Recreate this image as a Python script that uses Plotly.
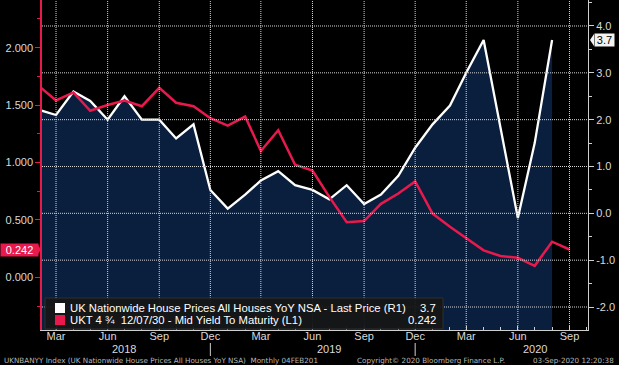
import plotly.graph_objects as go

# ---------------- data ----------------
DATES = [f"{y}-{m:02d}-01" for y, m in
         [(2018, m) for m in range(2, 13)] + [(2019, m) for m in range(1, 13)] + [(2020, m) for m in range(1, 10)]]

# UK Nationwide House Prices YoY (R1) - Feb 2018 .. Aug 2020
HOUSE_YOY = [2.2, 2.1, 2.6, 2.4, 2.0, 2.5, 2.0, 2.0, 1.6, 1.9, 0.5,
             0.1, 0.4, 0.7, 0.9, 0.6, 0.5, 0.3, 0.6, 0.2, 0.4, 0.8, 1.4,
             1.9, 2.3, 3.0, 3.7, 1.8, -0.1, 1.5, 3.7]
# UKT 4 3/4 12/07/30 mid yield (L1) - Feb 2018 .. Sep 2020
GILT_YIELD = [1.655, 1.54, 1.61, 1.45, 1.50, 1.54, 1.49, 1.65, 1.52, 1.49, 1.385,
              1.32, 1.40, 1.10, 1.28, 0.98, 0.93, 0.70, 0.48, 0.49, 0.64, 0.73, 0.835,
              0.555, 0.44, 0.34, 0.235, 0.185, 0.17, 0.10, 0.31, 0.242]

X_TICK_DATES = ["2018-03-01", "2018-06-01", "2018-09-01", "2018-12-01",
                "2019-03-01", "2019-06-01", "2019-09-01", "2019-12-01",
                "2020-03-01", "2020-06-01", "2020-09-01"]
X_TICK_LABELS = ["Mar", "Jun", "Sep", "Dec", "Mar", "Jun", "Sep", "Dec", "Mar", "Jun", "Sep"]
YEAR_LABELS = ["2018", "2019", "2020"]
YEAR_CENTERS = ["2018-07-01", "2019-07-01", "2020-07-01"]
YEAR_SEPARATORS = ["2018-12-01", "2019-12-01"]

LEFT_TICKS = [0.0, 0.5, 1.0, 1.5, 2.0]
RIGHT_TICKS = [-2.0, -1.0, 0.0, 1.0, 2.0, 3.0, 4.0]

X_RANGE = ["2018-02-04", "2020-10-04"]
LEFT_RANGE = [-0.459, 2.415]
RIGHT_RANGE = [-2.491, 4.555]

HOUSE_NAME = "UK Nationwide House Prices All Houses YoY NSA - Last Price (R1)"
GILT_NAME = "UKT 4 \u00be  12/07/30 - Mid Yield To Maturity (L1)"
FOOT_LEFT = "UKNBANYY Index (UK Nationwide House Prices All Houses YoY NSA)  Monthly 04FEB201"
FOOT_MID = "Copyright\u00a9 2020 Bloomberg Finance L.P."
FOOT_RIGHT = "03-Sep-2020 12:20:38"

# ---------------- style ----------------
W, H = 619, 365
ML, MR, MT, MB = 42, 31, 0, 35
PW, PH = W - ML - MR, H - MT - MB
RED = "#e8194c"
AXIS_GREY = "#cfcfcf"
GRID = "#d4d4d4"
TEXT = "#dadada"
FONT = "Liberation Sans"
FOOT_FONT = "DejaVu Sans"


def px(x):
    return (x - ML) / PW


def py(y):
    return (H - MB - y) / PH


fig = go.Figure()

house_dates = DATES[:len(HOUSE_YOY)]
# baseline at the bottom of the right axis so the area fills to the plot floor
fig.add_trace(go.Scatter(x=house_dates, y=[RIGHT_RANGE[0]] * len(HOUSE_YOY), mode="lines",
                         line=dict(width=0), hoverinfo="skip", yaxis="y"))
fig.add_trace(go.Scatter(x=house_dates, y=HOUSE_YOY, mode="lines", name=HOUSE_NAME,
                         line=dict(color="white", width=2.3), fill="tonexty",
                         fillcolor="#0a1f3e", yaxis="y"))
fig.add_trace(go.Scatter(x=DATES, y=GILT_YIELD, mode="lines", name=GILT_NAME,
                         line=dict(color=RED, width=2.5), yaxis="y2"))

fig.update_layout(
    width=W, height=H,
    margin=dict(l=ML, r=MR, t=MT, b=MB, pad=0),
    paper_bgcolor="black", plot_bgcolor="black",
    showlegend=False,
    font=dict(family=FONT, size=11, color=TEXT),
    xaxis=dict(type="date", range=X_RANGE, tickmode="array", tickvals=X_TICK_DATES,
               ticktext=X_TICK_LABELS, ticks="inside", ticklen=4, tickcolor=AXIS_GREY,
               showline=True, linecolor=AXIS_GREY, linewidth=1, zeroline=False,
               showgrid=False, tickfont=dict(size=11, color=TEXT), ticklabelstandoff=-4,
               minor=dict(dtick="M1", tick0="2018-01-01", ticks="inside", ticklen=3,
                          tickcolor=AXIS_GREY, showgrid=False)),
    yaxis=dict(side="right", range=RIGHT_RANGE, tickmode="array", tickvals=RIGHT_TICKS,
               ticktext=[f"{v:.1f}" for v in RIGHT_TICKS], ticks="outside", ticklen=5,
               tickcolor=AXIS_GREY, showline=True, linecolor=AXIS_GREY, linewidth=1,
               zeroline=False, showgrid=False, tickfont=dict(size=11, color=TEXT),
               minor=dict(dtick=0.5, tick0=0, ticks="outside", ticklen=3,
                          tickcolor=AXIS_GREY, showgrid=False)),
    yaxis2=dict(side="left", overlaying="y", range=LEFT_RANGE, tickmode="array",
                tickvals=LEFT_TICKS, ticktext=[f"{v:.3f}" for v in LEFT_TICKS],
                ticks="outside", ticklen=5, tickcolor=RED, showline=True, linecolor=RED,
                linewidth=1.5, zeroline=False, showgrid=False,
                tickfont=dict(size=11, color=TEXT),
                minor=dict(dtick=0.25, tick0=0, ticks="outside", ticklen=3, tickcolor=RED,
                           showgrid=False)),
)

shapes = []
annotations = []

# dotted grid drawn above the area fill (at the right-axis ticks and the quarterly x ticks)
for v in RIGHT_TICKS:
    shapes.append(dict(type="line", xref="paper", yref="y", x0=0, x1=1, y0=v, y1=v,
                       line=dict(color=GRID, width=1, dash="1px,1px"), layer="above"))
for d in X_TICK_DATES:
    shapes.append(dict(type="line", xref="x", yref="paper", x0=d, x1=d, y0=0, y1=1,
                       line=dict(color=GRID, width=1, dash="1px,1px"), layer="above"))

# legend box
shapes.append(dict(type="rect", xref="paper", yref="paper", x0=px(45), x1=px(443),
                   y0=py(329), y1=py(298), fillcolor="rgba(22,22,22,0.95)",
                   line=dict(color="#2e2e2e", width=1), layer="above"))
shapes.append(dict(type="rect", xref="paper", yref="paper", x0=px(55), x1=px(65),
                   y0=py(313), y1=py(303), fillcolor="white", line=dict(width=0)))
shapes.append(dict(type="rect", xref="paper", yref="paper", x0=px(55), x1=px(65),
                   y0=py(325), y1=py(315), fillcolor=RED, line=dict(width=0)))
annotations += [
    dict(xref="paper", yref="paper", x=px(68), y=py(308), xanchor="left", yanchor="middle",
         text=HOUSE_NAME, showarrow=False, font=dict(size=11.3, color="white")),
    dict(xref="paper", yref="paper", x=px(68), y=py(320), xanchor="left", yanchor="middle",
         text=GILT_NAME, showarrow=False, font=dict(size=11.3, color="white")),
    dict(xref="paper", yref="paper", x=px(438), y=py(308), xanchor="right", yanchor="middle",
         text=f"{HOUSE_YOY[-1]:.1f}", showarrow=False, font=dict(size=11.3, color="white")),
    dict(xref="paper", yref="paper", x=px(438), y=py(320), xanchor="right", yanchor="middle",
         text=f"{GILT_YIELD[-1]:.3f}", showarrow=False, font=dict(size=11.3, color="white")),
]

# last-value badges
annotations.append(dict(xref="paper", yref="y2", x=px(0), y=GILT_YIELD[-1], xanchor="left",
                        yanchor="middle", text=f"{GILT_YIELD[-1]:.3f}", showarrow=False,
                        bgcolor=RED, width=37, height=12, borderpad=0,
                        font=dict(size=11, color="white")))
shapes.append(dict(type="path", xref="paper", yref="y2", xsizemode="pixel", ysizemode="pixel",
                   xanchor=px(37), yanchor=GILT_YIELD[-1], path="M0,6 L4,0 L0,-6 Z",
                   fillcolor=RED, line=dict(width=0)))
annotations.append(dict(xref="paper", yref="y", x=px(594), y=HOUSE_YOY[-1], xanchor="left",
                        yanchor="middle", text=f"{HOUSE_YOY[-1]:.1f}", showarrow=False,
                        bgcolor="#f2f2f2", width=19, height=12, borderpad=0,
                        font=dict(size=11, color="black")))
shapes.append(dict(type="path", xref="paper", yref="y", xsizemode="pixel", ysizemode="pixel",
                   xanchor=px(594), yanchor=HOUSE_YOY[-1], path="M0,6 L-4,0 L0,-6 Z",
                   fillcolor="#f2f2f2", line=dict(width=0)))

# year labels and separators
for lab, c in zip(YEAR_LABELS, YEAR_CENTERS):
    annotations.append(dict(xref="x", yref="paper", x=c, y=py(349), xanchor="center",
                            yanchor="middle", text=lab, showarrow=False,
                            font=dict(size=11, color=TEXT)))
for s in YEAR_SEPARATORS:
    shapes.append(dict(type="line", xref="x", yref="paper", x0=s, x1=s, y0=py(343), y1=py(356),
                       line=dict(color=AXIS_GREY, width=1)))

# footer
annotations += [
    dict(xref="paper", yref="paper", x=px(2), y=py(360), xanchor="left", yanchor="middle",
         text=FOOT_LEFT, showarrow=False, font=dict(family=FOOT_FONT, size=7.2, color="#b8b8b8")),
    dict(xref="paper", yref="paper", x=px(355), y=py(360), xanchor="left", yanchor="middle",
         text=FOOT_MID, showarrow=False, font=dict(family=FOOT_FONT, size=7.2, color="#b8b8b8")),
    dict(xref="paper", yref="paper", x=px(616), y=py(360), xanchor="right", yanchor="middle",
         text=FOOT_RIGHT, showarrow=False, font=dict(family=FOOT_FONT, size=7.2, color="#b8b8b8")),
]

fig.update_layout(shapes=shapes, annotations=annotations)
fig.write_html("out.html", config={"displayModeBar": False},
               post_script="document.body.style.margin='0';")
